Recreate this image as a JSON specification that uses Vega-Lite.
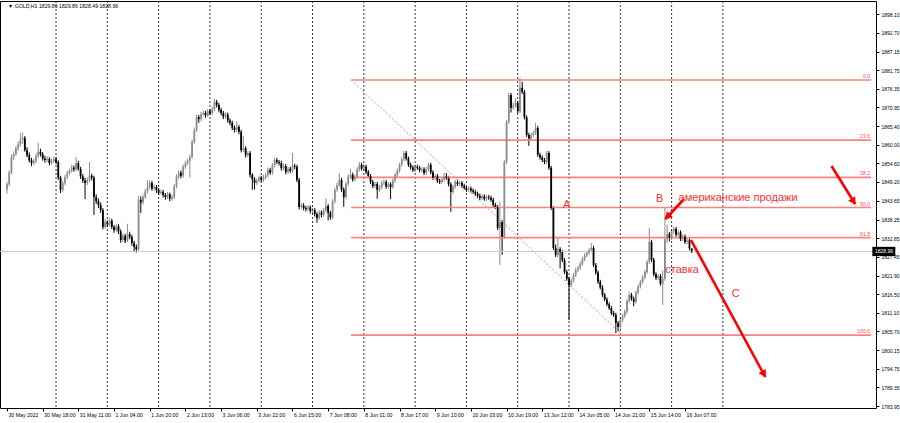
{
"$schema": "https://vega.github.io/schema/vega-lite/v6.json",
"width": 876, "height": 407,
"autosize": {"type": "none"},
"padding": {"left": 0, "top": 1, "right": 24, "bottom": 15},
"background": "#ffffff",
"config": {"view": {"stroke": "#000000", "strokeWidth": 1},
  "axis": {"labelFont": "Liberation Sans", "labelFontSize": 5.2, "labelColor": "#000000", "tickColor": "#000000", "tickSize": 3, "domain": false, "grid": false, "labelOverlap": false, "labelFlush": false}},
"datasets": {
"c": [
{"i":0,"o":1847.0,"h":1849.2,"l":1845.8,"c":1848.5},
{"i":1,"o":1848.5,"h":1852.6,"l":1847.9,"c":1852.0},
{"i":2,"o":1852.0,"h":1857.3,"l":1851.4,"c":1856.5},
{"i":3,"o":1856.5,"h":1858.1,"l":1855.6,"c":1857.2},
{"i":4,"o":1857.2,"h":1859.6,"l":1856.8,"c":1859.0},
{"i":5,"o":1859.0,"h":1861.0,"l":1858.2,"c":1860.2},
{"i":6,"o":1860.2,"h":1863.5,"l":1859.5,"c":1861.4},
{"i":7,"o":1861.4,"h":1863.6,"l":1860.3,"c":1862.0},
{"i":8,"o":1862.0,"h":1862.6,"l":1858.0,"c":1858.5},
{"i":9,"o":1858.5,"h":1859.3,"l":1856.4,"c":1857.0},
{"i":10,"o":1857.0,"h":1857.8,"l":1854.9,"c":1855.5},
{"i":11,"o":1855.5,"h":1856.2,"l":1853.8,"c":1854.7},
{"i":12,"o":1854.7,"h":1856.0,"l":1854.1,"c":1855.2},
{"i":13,"o":1855.2,"h":1857.5,"l":1854.6,"c":1856.8},
{"i":14,"o":1856.8,"h":1860.6,"l":1856.2,"c":1858.0},
{"i":15,"o":1858.0,"h":1858.9,"l":1856.6,"c":1857.3},
{"i":16,"o":1857.3,"h":1857.9,"l":1855.4,"c":1856.0},
{"i":17,"o":1856.0,"h":1856.8,"l":1854.8,"c":1855.6},
{"i":18,"o":1855.6,"h":1856.7,"l":1855.0,"c":1855.9},
{"i":19,"o":1855.9,"h":1856.4,"l":1854.0,"c":1854.7},
{"i":20,"o":1854.7,"h":1856.0,"l":1854.2,"c":1855.3},
{"i":21,"o":1855.3,"h":1856.6,"l":1854.8,"c":1855.8},
{"i":22,"o":1855.8,"h":1856.3,"l":1854.4,"c":1855.0},
{"i":23,"o":1855.0,"h":1855.5,"l":1849.8,"c":1850.5},
{"i":24,"o":1850.5,"h":1851.0,"l":1846.0,"c":1846.9},
{"i":25,"o":1846.9,"h":1849.5,"l":1846.3,"c":1848.8},
{"i":26,"o":1848.8,"h":1851.2,"l":1848.2,"c":1850.6},
{"i":27,"o":1850.6,"h":1852.4,"l":1850.0,"c":1851.8},
{"i":28,"o":1851.8,"h":1853.1,"l":1851.2,"c":1852.5},
{"i":29,"o":1852.5,"h":1854.2,"l":1851.9,"c":1853.4},
{"i":30,"o":1853.4,"h":1854.0,"l":1852.2,"c":1852.9},
{"i":31,"o":1852.9,"h":1856.5,"l":1852.3,"c":1854.7},
{"i":32,"o":1854.7,"h":1855.3,"l":1852.5,"c":1853.0},
{"i":33,"o":1853.0,"h":1853.6,"l":1850.1,"c":1850.8},
{"i":34,"o":1850.8,"h":1851.5,"l":1848.9,"c":1849.6},
{"i":35,"o":1849.6,"h":1850.4,"l":1844.2,"c":1848.9},
{"i":36,"o":1848.9,"h":1850.5,"l":1848.3,"c":1849.8},
{"i":37,"o":1849.8,"h":1855.0,"l":1849.2,"c":1851.0},
{"i":38,"o":1851.0,"h":1851.6,"l":1849.6,"c":1850.4},
{"i":39,"o":1850.4,"h":1851.0,"l":1839.6,"c":1844.8},
{"i":40,"o":1844.8,"h":1845.6,"l":1842.8,"c":1843.6},
{"i":41,"o":1843.6,"h":1844.4,"l":1841.6,"c":1842.5},
{"i":42,"o":1842.5,"h":1843.2,"l":1840.2,"c":1841.0},
{"i":43,"o":1841.0,"h":1841.6,"l":1835.4,"c":1836.1},
{"i":44,"o":1836.1,"h":1838.4,"l":1835.6,"c":1837.5},
{"i":45,"o":1837.5,"h":1838.0,"l":1836.0,"c":1836.8},
{"i":46,"o":1836.8,"h":1838.8,"l":1836.2,"c":1837.9},
{"i":47,"o":1837.9,"h":1838.5,"l":1835.5,"c":1836.1},
{"i":48,"o":1836.1,"h":1836.7,"l":1834.4,"c":1835.2},
{"i":49,"o":1835.2,"h":1837.0,"l":1834.6,"c":1836.3},
{"i":50,"o":1836.3,"h":1836.9,"l":1834.0,"c":1834.8},
{"i":51,"o":1834.8,"h":1835.4,"l":1831.5,"c":1832.3},
{"i":52,"o":1832.3,"h":1834.2,"l":1831.7,"c":1833.5},
{"i":53,"o":1833.5,"h":1834.1,"l":1831.4,"c":1832.1},
{"i":54,"o":1832.1,"h":1837.0,"l":1831.6,"c":1834.0},
{"i":55,"o":1834.0,"h":1834.7,"l":1832.5,"c":1833.2},
{"i":56,"o":1833.2,"h":1833.8,"l":1830.6,"c":1831.4},
{"i":57,"o":1831.4,"h":1832.0,"l":1829.0,"c":1830.3},
{"i":58,"o":1830.3,"h":1831.0,"l":1828.6,"c":1829.6},
{"i":59,"o":1829.6,"h":1845.2,"l":1829.2,"c":1844.0},
{"i":60,"o":1844.0,"h":1845.0,"l":1840.2,"c":1843.2},
{"i":61,"o":1843.2,"h":1845.6,"l":1842.6,"c":1844.8},
{"i":62,"o":1844.8,"h":1847.2,"l":1844.2,"c":1846.5},
{"i":63,"o":1846.5,"h":1849.8,"l":1845.9,"c":1847.7},
{"i":64,"o":1847.7,"h":1849.6,"l":1847.0,"c":1848.9},
{"i":65,"o":1848.9,"h":1849.5,"l":1846.6,"c":1847.3},
{"i":66,"o":1847.3,"h":1848.4,"l":1846.7,"c":1847.7},
{"i":67,"o":1847.7,"h":1848.3,"l":1846.0,"c":1846.8},
{"i":68,"o":1846.8,"h":1847.4,"l":1845.4,"c":1846.0},
{"i":69,"o":1846.0,"h":1847.0,"l":1845.5,"c":1846.3},
{"i":70,"o":1846.3,"h":1846.9,"l":1844.7,"c":1845.4},
{"i":71,"o":1845.4,"h":1846.0,"l":1844.0,"c":1844.8},
{"i":72,"o":1844.8,"h":1846.3,"l":1844.2,"c":1845.6},
{"i":73,"o":1845.6,"h":1846.1,"l":1843.6,"c":1844.3},
{"i":74,"o":1844.3,"h":1845.5,"l":1843.7,"c":1844.8},
{"i":75,"o":1844.8,"h":1848.6,"l":1844.2,"c":1847.9},
{"i":76,"o":1847.9,"h":1851.4,"l":1847.3,"c":1850.7},
{"i":77,"o":1850.7,"h":1852.6,"l":1850.1,"c":1851.9},
{"i":78,"o":1851.9,"h":1852.5,"l":1850.3,"c":1851.0},
{"i":79,"o":1851.0,"h":1854.3,"l":1850.4,"c":1853.6},
{"i":80,"o":1853.6,"h":1855.4,"l":1853.0,"c":1854.7},
{"i":81,"o":1854.7,"h":1856.1,"l":1854.1,"c":1855.4},
{"i":82,"o":1855.4,"h":1857.2,"l":1850.5,"c":1856.5},
{"i":83,"o":1856.5,"h":1861.5,"l":1856.0,"c":1860.8},
{"i":84,"o":1860.8,"h":1865.0,"l":1860.2,"c":1864.3},
{"i":85,"o":1864.3,"h":1868.8,"l":1863.7,"c":1868.1},
{"i":86,"o":1868.1,"h":1868.7,"l":1866.4,"c":1867.5},
{"i":87,"o":1867.5,"h":1869.6,"l":1866.9,"c":1868.9},
{"i":88,"o":1868.9,"h":1870.0,"l":1868.3,"c":1869.3},
{"i":89,"o":1869.3,"h":1869.9,"l":1867.8,"c":1868.6},
{"i":90,"o":1868.6,"h":1870.5,"l":1868.0,"c":1869.8},
{"i":91,"o":1869.8,"h":1870.4,"l":1868.6,"c":1869.3},
{"i":92,"o":1869.3,"h":1871.1,"l":1868.7,"c":1870.4},
{"i":93,"o":1870.4,"h":1873.4,"l":1869.8,"c":1872.5},
{"i":94,"o":1872.5,"h":1873.1,"l":1870.9,"c":1871.6},
{"i":95,"o":1871.6,"h":1872.2,"l":1869.5,"c":1870.2},
{"i":96,"o":1870.2,"h":1870.8,"l":1868.6,"c":1869.3},
{"i":97,"o":1869.3,"h":1869.9,"l":1867.5,"c":1868.2},
{"i":98,"o":1868.2,"h":1869.5,"l":1867.6,"c":1868.8},
{"i":99,"o":1868.8,"h":1869.4,"l":1866.4,"c":1867.1},
{"i":100,"o":1867.1,"h":1867.7,"l":1865.7,"c":1866.4},
{"i":101,"o":1866.4,"h":1867.0,"l":1864.3,"c":1865.0},
{"i":102,"o":1865.0,"h":1865.6,"l":1863.6,"c":1864.3},
{"i":103,"o":1864.3,"h":1866.8,"l":1863.7,"c":1865.2},
{"i":104,"o":1865.2,"h":1865.8,"l":1863.1,"c":1863.8},
{"i":105,"o":1863.8,"h":1864.4,"l":1857.8,"c":1858.5},
{"i":106,"o":1858.5,"h":1862.5,"l":1857.9,"c":1859.0},
{"i":107,"o":1859.0,"h":1859.6,"l":1856.3,"c":1857.0},
{"i":108,"o":1857.0,"h":1858.2,"l":1856.4,"c":1857.6},
{"i":109,"o":1857.6,"h":1858.2,"l":1850.5,"c":1851.2},
{"i":110,"o":1851.2,"h":1851.8,"l":1846.9,"c":1850.0},
{"i":111,"o":1850.0,"h":1850.6,"l":1847.0,"c":1848.9},
{"i":112,"o":1848.9,"h":1850.2,"l":1848.3,"c":1849.6},
{"i":113,"o":1849.6,"h":1851.0,"l":1849.0,"c":1850.4},
{"i":114,"o":1850.4,"h":1851.0,"l":1849.2,"c":1849.8},
{"i":115,"o":1849.8,"h":1851.3,"l":1849.2,"c":1850.6},
{"i":116,"o":1850.6,"h":1852.0,"l":1850.0,"c":1851.2},
{"i":117,"o":1851.2,"h":1853.4,"l":1850.6,"c":1852.7},
{"i":118,"o":1852.7,"h":1853.3,"l":1851.3,"c":1851.9},
{"i":119,"o":1851.9,"h":1854.7,"l":1851.3,"c":1854.0},
{"i":120,"o":1854.0,"h":1856.3,"l":1853.4,"c":1855.6},
{"i":121,"o":1855.6,"h":1856.2,"l":1854.4,"c":1855.0},
{"i":122,"o":1855.0,"h":1855.6,"l":1854.0,"c":1854.7},
{"i":123,"o":1854.7,"h":1855.4,"l":1852.5,"c":1853.2},
{"i":124,"o":1853.2,"h":1854.6,"l":1852.6,"c":1853.8},
{"i":125,"o":1853.8,"h":1854.4,"l":1851.4,"c":1852.1},
{"i":126,"o":1852.1,"h":1853.7,"l":1851.5,"c":1853.0},
{"i":127,"o":1853.0,"h":1853.6,"l":1851.8,"c":1852.5},
{"i":128,"o":1852.5,"h":1857.6,"l":1851.9,"c":1853.9},
{"i":129,"o":1853.9,"h":1854.5,"l":1852.9,"c":1853.6},
{"i":130,"o":1853.6,"h":1854.2,"l":1849.1,"c":1849.8},
{"i":131,"o":1849.8,"h":1850.4,"l":1841.2,"c":1841.9},
{"i":132,"o":1841.9,"h":1843.1,"l":1841.3,"c":1842.4},
{"i":133,"o":1842.4,"h":1843.0,"l":1840.9,"c":1841.6},
{"i":134,"o":1841.6,"h":1842.2,"l":1840.6,"c":1841.3},
{"i":135,"o":1841.3,"h":1842.5,"l":1840.7,"c":1841.8},
{"i":136,"o":1841.8,"h":1842.4,"l":1840.0,"c":1840.7},
{"i":137,"o":1840.7,"h":1841.7,"l":1840.1,"c":1841.0},
{"i":138,"o":1841.0,"h":1841.6,"l":1839.1,"c":1839.8},
{"i":139,"o":1839.8,"h":1840.4,"l":1837.3,"c":1838.7},
{"i":140,"o":1838.7,"h":1841.0,"l":1838.1,"c":1840.3},
{"i":141,"o":1840.3,"h":1840.9,"l":1838.9,"c":1839.6},
{"i":142,"o":1839.6,"h":1841.7,"l":1839.0,"c":1841.0},
{"i":143,"o":1841.0,"h":1844.5,"l":1840.4,"c":1842.2},
{"i":144,"o":1842.2,"h":1842.8,"l":1838.0,"c":1840.2},
{"i":145,"o":1840.2,"h":1840.8,"l":1838.2,"c":1838.9},
{"i":146,"o":1838.9,"h":1844.2,"l":1838.3,"c":1843.5},
{"i":147,"o":1843.5,"h":1847.6,"l":1842.9,"c":1846.9},
{"i":148,"o":1846.9,"h":1849.0,"l":1846.3,"c":1848.3},
{"i":149,"o":1848.3,"h":1851.7,"l":1847.7,"c":1849.8},
{"i":150,"o":1849.8,"h":1850.4,"l":1846.3,"c":1847.0},
{"i":151,"o":1847.0,"h":1847.6,"l":1842.0,"c":1844.8},
{"i":152,"o":1844.8,"h":1849.3,"l":1844.2,"c":1848.6},
{"i":153,"o":1848.6,"h":1851.4,"l":1848.0,"c":1850.7},
{"i":154,"o":1850.7,"h":1853.0,"l":1850.1,"c":1851.3},
{"i":155,"o":1851.3,"h":1851.9,"l":1849.3,"c":1849.9},
{"i":156,"o":1849.9,"h":1851.4,"l":1849.3,"c":1850.7},
{"i":157,"o":1850.7,"h":1853.5,"l":1850.1,"c":1852.8},
{"i":158,"o":1852.8,"h":1855.0,"l":1852.2,"c":1854.2},
{"i":159,"o":1854.2,"h":1854.8,"l":1852.5,"c":1853.1},
{"i":160,"o":1853.1,"h":1854.3,"l":1852.5,"c":1853.6},
{"i":161,"o":1853.6,"h":1854.2,"l":1851.5,"c":1852.1},
{"i":162,"o":1852.1,"h":1852.7,"l":1850.3,"c":1850.9},
{"i":163,"o":1850.9,"h":1851.5,"l":1848.6,"c":1849.2},
{"i":164,"o":1849.2,"h":1849.8,"l":1847.4,"c":1848.0},
{"i":165,"o":1848.0,"h":1849.3,"l":1847.4,"c":1848.6},
{"i":166,"o":1848.6,"h":1849.2,"l":1844.3,"c":1846.9},
{"i":167,"o":1846.9,"h":1848.3,"l":1846.3,"c":1847.6},
{"i":168,"o":1847.6,"h":1849.5,"l":1847.0,"c":1848.9},
{"i":169,"o":1848.9,"h":1849.9,"l":1848.3,"c":1849.2},
{"i":170,"o":1849.2,"h":1849.8,"l":1847.2,"c":1847.8},
{"i":171,"o":1847.8,"h":1849.1,"l":1847.2,"c":1848.5},
{"i":172,"o":1848.5,"h":1849.1,"l":1844.2,"c":1847.7},
{"i":173,"o":1847.7,"h":1850.2,"l":1847.1,"c":1849.6},
{"i":174,"o":1849.6,"h":1851.8,"l":1849.0,"c":1851.2},
{"i":175,"o":1851.2,"h":1853.1,"l":1850.6,"c":1852.5},
{"i":176,"o":1852.5,"h":1854.8,"l":1851.9,"c":1854.2},
{"i":177,"o":1854.2,"h":1856.4,"l":1853.6,"c":1855.8},
{"i":178,"o":1855.8,"h":1858.2,"l":1855.2,"c":1857.6},
{"i":179,"o":1857.6,"h":1858.2,"l":1855.4,"c":1856.0},
{"i":180,"o":1856.0,"h":1856.6,"l":1853.6,"c":1854.2},
{"i":181,"o":1854.2,"h":1854.8,"l":1852.8,"c":1853.4},
{"i":182,"o":1853.4,"h":1854.0,"l":1852.1,"c":1852.7},
{"i":183,"o":1852.7,"h":1854.2,"l":1852.1,"c":1853.6},
{"i":184,"o":1853.6,"h":1854.2,"l":1852.7,"c":1853.3},
{"i":185,"o":1853.3,"h":1853.9,"l":1852.0,"c":1852.6},
{"i":186,"o":1852.6,"h":1853.5,"l":1852.0,"c":1852.9},
{"i":187,"o":1852.9,"h":1853.5,"l":1851.2,"c":1851.8},
{"i":188,"o":1851.8,"h":1853.6,"l":1851.2,"c":1853.0},
{"i":189,"o":1853.0,"h":1854.8,"l":1852.4,"c":1854.2},
{"i":190,"o":1854.2,"h":1854.8,"l":1851.4,"c":1852.0},
{"i":191,"o":1852.0,"h":1852.6,"l":1849.8,"c":1850.4},
{"i":192,"o":1850.4,"h":1851.5,"l":1849.8,"c":1850.9},
{"i":193,"o":1850.9,"h":1851.5,"l":1848.9,"c":1849.5},
{"i":194,"o":1849.5,"h":1850.1,"l":1848.6,"c":1849.2},
{"i":195,"o":1849.2,"h":1850.5,"l":1848.6,"c":1849.9},
{"i":196,"o":1849.9,"h":1851.8,"l":1849.3,"c":1850.8},
{"i":197,"o":1850.8,"h":1851.8,"l":1849.8,"c":1850.4},
{"i":198,"o":1850.4,"h":1851.0,"l":1847.9,"c":1848.5},
{"i":199,"o":1848.5,"h":1849.1,"l":1840.5,"c":1846.3},
{"i":200,"o":1846.3,"h":1848.4,"l":1845.7,"c":1847.8},
{"i":201,"o":1847.8,"h":1849.8,"l":1847.2,"c":1849.2},
{"i":202,"o":1849.2,"h":1849.8,"l":1848.0,"c":1848.6},
{"i":203,"o":1848.6,"h":1849.5,"l":1848.0,"c":1848.9},
{"i":204,"o":1848.9,"h":1849.5,"l":1847.5,"c":1848.1},
{"i":205,"o":1848.1,"h":1848.7,"l":1846.9,"c":1847.5},
{"i":206,"o":1847.5,"h":1848.1,"l":1846.3,"c":1846.9},
{"i":207,"o":1846.9,"h":1847.9,"l":1846.3,"c":1847.3},
{"i":208,"o":1847.3,"h":1847.9,"l":1846.1,"c":1846.7},
{"i":209,"o":1846.7,"h":1847.3,"l":1845.7,"c":1846.3},
{"i":210,"o":1846.3,"h":1846.9,"l":1845.2,"c":1845.8},
{"i":211,"o":1845.8,"h":1846.4,"l":1844.6,"c":1845.2},
{"i":212,"o":1845.2,"h":1845.8,"l":1843.9,"c":1844.5},
{"i":213,"o":1844.5,"h":1845.6,"l":1843.9,"c":1845.0},
{"i":214,"o":1845.0,"h":1845.6,"l":1843.7,"c":1844.3},
{"i":215,"o":1844.3,"h":1845.4,"l":1843.7,"c":1844.8},
{"i":216,"o":1844.8,"h":1845.4,"l":1844.0,"c":1844.6},
{"i":217,"o":1844.6,"h":1845.2,"l":1843.4,"c":1844.0},
{"i":218,"o":1844.0,"h":1844.6,"l":1841.9,"c":1842.5},
{"i":219,"o":1842.5,"h":1843.1,"l":1841.3,"c":1841.9},
{"i":220,"o":1841.9,"h":1842.5,"l":1835.2,"c":1835.8},
{"i":221,"o":1835.8,"h":1843.4,"l":1825.0,"c":1837.5},
{"i":222,"o":1837.5,"h":1838.1,"l":1828.0,"c":1833.2},
{"i":223,"o":1833.2,"h":1855.6,"l":1832.6,"c":1855.0},
{"i":224,"o":1855.0,"h":1867.3,"l":1854.4,"c":1866.7},
{"i":225,"o":1866.7,"h":1875.1,"l":1866.1,"c":1874.5},
{"i":226,"o":1874.5,"h":1875.1,"l":1869.4,"c":1870.8},
{"i":227,"o":1870.8,"h":1872.4,"l":1870.2,"c":1871.5},
{"i":228,"o":1871.5,"h":1873.6,"l":1870.9,"c":1872.2},
{"i":229,"o":1872.2,"h":1872.8,"l":1869.2,"c":1869.8},
{"i":230,"o":1869.8,"h":1879.5,"l":1869.2,"c":1876.6},
{"i":231,"o":1876.6,"h":1878.4,"l":1874.8,"c":1875.4},
{"i":232,"o":1875.4,"h":1876.0,"l":1867.4,"c":1868.0},
{"i":233,"o":1868.0,"h":1868.6,"l":1862.3,"c":1862.9},
{"i":234,"o":1862.9,"h":1863.5,"l":1859.7,"c":1861.8},
{"i":235,"o":1861.8,"h":1863.5,"l":1861.2,"c":1862.9},
{"i":236,"o":1862.9,"h":1864.1,"l":1862.3,"c":1863.5},
{"i":237,"o":1863.5,"h":1866.4,"l":1862.9,"c":1864.9},
{"i":238,"o":1864.9,"h":1865.5,"l":1856.5,"c":1857.1},
{"i":239,"o":1857.1,"h":1857.7,"l":1855.7,"c":1856.3},
{"i":240,"o":1856.3,"h":1856.9,"l":1855.0,"c":1855.6},
{"i":241,"o":1855.6,"h":1856.2,"l":1854.4,"c":1855.0},
{"i":242,"o":1855.0,"h":1858.3,"l":1854.4,"c":1857.6},
{"i":243,"o":1857.6,"h":1858.2,"l":1852.7,"c":1853.3},
{"i":244,"o":1853.3,"h":1853.9,"l":1841.0,"c":1841.6},
{"i":245,"o":1841.6,"h":1842.2,"l":1829.4,"c":1830.0},
{"i":246,"o":1830.0,"h":1831.0,"l":1827.3,"c":1827.9},
{"i":247,"o":1827.9,"h":1832.9,"l":1827.3,"c":1829.6},
{"i":248,"o":1829.6,"h":1830.2,"l":1824.0,"c":1828.8},
{"i":249,"o":1828.8,"h":1829.4,"l":1825.8,"c":1826.4},
{"i":250,"o":1826.4,"h":1827.0,"l":1822.4,"c":1823.0},
{"i":251,"o":1823.0,"h":1823.6,"l":1820.4,"c":1821.0},
{"i":252,"o":1821.0,"h":1821.6,"l":1809.0,"c":1819.2},
{"i":253,"o":1819.2,"h":1821.1,"l":1818.6,"c":1820.5},
{"i":254,"o":1820.5,"h":1822.7,"l":1819.9,"c":1822.1},
{"i":255,"o":1822.1,"h":1824.2,"l":1821.5,"c":1823.6},
{"i":256,"o":1823.6,"h":1824.8,"l":1823.0,"c":1824.2},
{"i":257,"o":1824.2,"h":1826.0,"l":1823.6,"c":1825.4},
{"i":258,"o":1825.4,"h":1827.3,"l":1824.8,"c":1826.7},
{"i":259,"o":1826.7,"h":1828.5,"l":1826.1,"c":1827.9},
{"i":260,"o":1827.9,"h":1829.2,"l":1827.3,"c":1828.6},
{"i":261,"o":1828.6,"h":1829.9,"l":1828.0,"c":1829.3},
{"i":262,"o":1829.3,"h":1831.4,"l":1828.7,"c":1830.0},
{"i":263,"o":1830.0,"h":1830.6,"l":1824.4,"c":1825.0},
{"i":264,"o":1825.0,"h":1825.6,"l":1822.2,"c":1822.8},
{"i":265,"o":1822.8,"h":1823.4,"l":1819.5,"c":1820.1},
{"i":266,"o":1820.1,"h":1820.7,"l":1817.9,"c":1818.5},
{"i":267,"o":1818.5,"h":1819.1,"l":1815.7,"c":1816.3},
{"i":268,"o":1816.3,"h":1816.9,"l":1814.4,"c":1815.0},
{"i":269,"o":1815.0,"h":1815.6,"l":1813.0,"c":1813.6},
{"i":270,"o":1813.6,"h":1814.2,"l":1811.9,"c":1812.5},
{"i":271,"o":1812.5,"h":1813.1,"l":1810.4,"c":1811.0},
{"i":272,"o":1811.0,"h":1811.6,"l":1809.9,"c":1810.5},
{"i":273,"o":1810.5,"h":1811.1,"l":1805.2,"c":1808.1},
{"i":274,"o":1808.1,"h":1808.7,"l":1805.6,"c":1807.0},
{"i":275,"o":1807.0,"h":1809.6,"l":1806.4,"c":1809.0},
{"i":276,"o":1809.0,"h":1810.8,"l":1808.4,"c":1810.2},
{"i":277,"o":1810.2,"h":1812.0,"l":1809.6,"c":1811.4},
{"i":278,"o":1811.4,"h":1815.1,"l":1810.8,"c":1814.5},
{"i":279,"o":1814.5,"h":1817.2,"l":1813.9,"c":1816.3},
{"i":280,"o":1816.3,"h":1816.9,"l":1814.6,"c":1815.2},
{"i":281,"o":1815.2,"h":1815.8,"l":1813.0,"c":1814.3},
{"i":282,"o":1814.3,"h":1817.6,"l":1813.7,"c":1817.0},
{"i":283,"o":1817.0,"h":1819.4,"l":1816.4,"c":1818.8},
{"i":284,"o":1818.8,"h":1820.7,"l":1818.2,"c":1820.1},
{"i":285,"o":1820.1,"h":1822.0,"l":1819.5,"c":1821.4},
{"i":286,"o":1821.4,"h":1823.6,"l":1820.8,"c":1823.0},
{"i":287,"o":1823.0,"h":1826.5,"l":1822.4,"c":1825.9},
{"i":288,"o":1825.9,"h":1835.8,"l":1825.3,"c":1831.7},
{"i":289,"o":1831.7,"h":1832.3,"l":1825.9,"c":1826.5},
{"i":290,"o":1826.5,"h":1827.1,"l":1821.7,"c":1822.3},
{"i":291,"o":1822.3,"h":1822.9,"l":1820.6,"c":1821.2},
{"i":292,"o":1821.2,"h":1822.4,"l":1820.6,"c":1821.8},
{"i":293,"o":1821.8,"h":1822.4,"l":1819.0,"c":1819.6},
{"i":294,"o":1819.6,"h":1823.5,"l":1813.4,"c":1821.0},
{"i":295,"o":1821.0,"h":1841.6,"l":1820.4,"c":1832.5},
{"i":296,"o":1832.5,"h":1836.8,"l":1831.4,"c":1834.0},
{"i":297,"o":1834.0,"h":1834.6,"l":1831.9,"c":1832.9},
{"i":298,"o":1832.9,"h":1835.4,"l":1832.3,"c":1834.8},
{"i":299,"o":1834.8,"h":1836.2,"l":1834.2,"c":1835.5},
{"i":300,"o":1835.5,"h":1836.1,"l":1833.2,"c":1833.8},
{"i":301,"o":1833.8,"h":1835.1,"l":1833.2,"c":1834.5},
{"i":302,"o":1834.5,"h":1835.1,"l":1832.0,"c":1832.6},
{"i":303,"o":1832.6,"h":1833.9,"l":1832.0,"c":1833.3},
{"i":304,"o":1833.3,"h":1833.9,"l":1831.1,"c":1831.7},
{"i":305,"o":1831.7,"h":1832.8,"l":1831.1,"c":1832.2},
{"i":306,"o":1832.2,"h":1832.8,"l":1829.3,"c":1829.86},
{"i":307,"o":1829.86,"h":1829.86,"l":1828.49,"c":1828.96}
],
"sep": [{"i":22},{"i":45},{"i":68},{"i":91},{"i":114},{"i":137},{"i":160},{"i":183},{"i":206},{"i":229},{"i":252},{"i":275},{"i":298},{"i":321}],
"fib": [{"lvl":"0.0","p":1878.9},{"lvl":"23.6","p":1861.37},{"lvl":"38.2","p":1850.52},{"lvl":"50.0","p":1841.75},{"lvl":"61.8","p":1832.98},{"lvl":"100.0","p":1804.6}],
"diag": [{"i1":154.3,"p1":1878.9,"i2":276,"p2":1804.6}],
"arr": [{"id":1,"i1":303.6,"p1":1844.23,"i2":295.2,"p2":1838.41,"ti":296.1,"tp":1839.05},
        {"id":2,"i1":306.7,"p1":1832.29,"i2":340.0,"p2":1792.4,"ti":339.4,"tp":1793.2},
        {"id":3,"i1":369.7,"p1":1853.84,"i2":380.3,"p2":1842.77,"ti":379.6,"tp":1843.5}],
"ann": [{"t":"A","i":250.9,"p":1842.5},{"t":"B","i":292.6,"p":1844.2},{"t":"C","i":326.7,"p":1816.6},{"t":"американские продажи","i":327.8,"p":1844.5},{"t":"ставка","i":302.7,"p":1823.6}],
"hdr": [{"t":"▼ GOLD,H1  1829.86 1829.86 1828.49 1828.96","i":0.5,"p":1900.4}],
"last": [{"p":1828.96}]
},
"layer": [
{"data": {"name": "c"}, "mark": {"type": "rule", "strokeWidth": 1},
 "encoding": {
   "x": {"field": "i", "type": "quantitative", "scale": {"domain": [-0.89, 387.4], "nice": false, "zero": false},
     "axis": {"values": [0,16,32,48,64,80,96,112,128,144,160,176,192,208,224,240,256,272,288,304], "tickCount": 40, "title": null, "labelAlign": "left", "labelBaseline": "top", "labelPadding": 1, "labelOffset": 1, "labelOverlap": false,
       "labelExpr": "['30 May 2022','30 May 18:00','31 May 11:00','1 Jun 04:00','1 Jun 20:00','2 Jun 13:00','3 Jun 06:00','3 Jun 22:00','6 Jun 15:00','7 Jun 08:00','8 Jun 01:00','8 Jun 17:00','9 Jun 10:00','10 Jun 03:00','10 Jun 19:00','13 Jun 12:00','14 Jun 05:00','14 Jun 21:00','15 Jun 14:00','16 Jun 07:00'][round(datum.value/16)]"}},
   "y": {"field": "l", "type": "quantitative", "scale": {"domain": [1783.37, 1901.89], "nice": false, "zero": false},
     "axis": {"orient": "right", "title": null, "values": [1898.10,1892.70,1887.15,1881.75,1876.35,1870.95,1865.40,1860.00,1854.60,1849.20,1843.65,1838.25,1832.85,1827.45,1821.90,1816.50,1811.10,1805.70,1800.15,1794.75,1789.35,1783.95], "tickCount": 40, "format": ".2f", "labelPadding": 2, "labelFontSize": 5, "labelOverlap": false, "labelBound": false}},
   "y2": {"field": "h"},
   "color": {"condition": {"test": "datum.c >= datum.o", "value": "#8c8c8c"}, "value": "#000000"}}},
{"data": {"name": "sep"}, "mark": {"type": "rule", "color": "#000000", "strokeWidth": 1, "strokeDash": [2, 2], "opacity": 0.8},
 "encoding": {"x": {"field": "i", "type": "quantitative", "axis": {"title": null}}}},
{"data": {"name": "last"}, "mark": {"type": "rule", "color": "#c8c8c8", "strokeWidth": 1},
 "encoding": {"y": {"field": "p", "type": "quantitative", "axis": {"title": null}}}},
{"data": {"name": "fib"}, "mark": {"type": "rule", "color": "#ff8080", "strokeWidth": 1.6},
 "encoding": {"x": {"datum": 154.3, "type": "quantitative", "axis": {"title": null}}, "x2": {"datum": 387.4},
   "y": {"field": "p", "type": "quantitative", "axis": {"title": null}}}},
{"data": {"name": "diag"}, "mark": {"type": "rule", "color": "#ff8080", "strokeWidth": 1, "strokeDash": [2, 2]},
 "encoding": {"x": {"field": "i1", "type": "quantitative", "axis": {"title": null}}, "x2": {"field": "i2"},
   "y": {"field": "p1", "type": "quantitative", "axis": {"title": null}}, "y2": {"field": "p2"}}},
{"data": {"name": "fib"}, "mark": {"type": "text", "color": "#ff4d4d", "font": "Liberation Sans", "fontSize": 5.2, "align": "right", "baseline": "bottom", "dy": -1},
 "encoding": {"x": {"datum": 387.0, "type": "quantitative", "axis": {"title": null}}, "y": {"field": "p", "type": "quantitative", "axis": {"title": null}}, "text": {"field": "lvl"}}},
{"data": {"name": "c"}, "mark": {"type": "bar", "width": 1.8},
 "encoding": {
   "x": {"field": "i", "type": "quantitative", "axis": {"title": null}},
   "y": {"field": "o", "type": "quantitative", "axis": {"title": null}}, "y2": {"field": "c"},
   "color": {"condition": {"test": "datum.c >= datum.o", "value": "#8c8c8c"}, "value": "#000000"}}},
{"data": {"name": "arr"}, "mark": {"type": "rule", "color": "#ff0000", "strokeWidth": 2.6},
 "encoding": {"x": {"field": "i1", "type": "quantitative", "axis": {"title": null}}, "x2": {"field": "i2"},
   "y": {"field": "p1", "type": "quantitative", "axis": {"title": null}}, "y2": {"field": "p2"}}},
{"data": {"name": "arr"}, "transform": [{"filter": "datum.id == 1"}], "mark": {"type": "point", "shape": "triangle-up", "filled": true, "color": "#ff0000", "size": 70, "angle": 223.5, "opacity": 1},
 "encoding": {"x": {"field": "ti", "type": "quantitative", "axis": {"title": null}}, "y": {"field": "tp", "type": "quantitative", "axis": {"title": null}}}},
{"data": {"name": "arr"}, "transform": [{"filter": "datum.id == 2"}], "mark": {"type": "point", "shape": "triangle-up", "filled": true, "color": "#ff0000", "size": 70, "angle": 151.3, "opacity": 1},
 "encoding": {"x": {"field": "ti", "type": "quantitative", "axis": {"title": null}}, "y": {"field": "tp", "type": "quantitative", "axis": {"title": null}}}},
{"data": {"name": "arr"}, "transform": [{"filter": "datum.id == 3"}], "mark": {"type": "point", "shape": "triangle-up", "filled": true, "color": "#ff0000", "size": 70, "angle": 147.7, "opacity": 1},
 "encoding": {"x": {"field": "ti", "type": "quantitative", "axis": {"title": null}}, "y": {"field": "tp", "type": "quantitative", "axis": {"title": null}}}},
{"data": {"name": "ann"}, "mark": {"type": "text", "color": "#ff3030", "font": "Liberation Sans", "fontSize": 11, "align": "center", "baseline": "middle"},
 "encoding": {"x": {"field": "i", "type": "quantitative", "axis": {"title": null}}, "y": {"field": "p", "type": "quantitative", "axis": {"title": null}}, "text": {"field": "t"}}},
{"data": {"name": "hdr"}, "mark": {"type": "text", "color": "#000000", "font": "Liberation Sans", "fontSize": 5.2, "align": "left", "baseline": "middle"},
 "encoding": {"x": {"field": "i", "type": "quantitative", "axis": {"title": null}}, "y": {"field": "p", "type": "quantitative", "axis": {"title": null}}, "text": {"field": "t"}}},
{"data": {"name": "last"}, "mark": {"type": "rect", "color": "#000000"},
 "encoding": {"x": {"datum": 388.0, "type": "quantitative", "axis": {"title": null}}, "x2": {"datum": 398.3},
   "y": {"datum": 1827.6, "type": "quantitative", "axis": {"title": null}}, "y2": {"datum": 1830.3}}},
{"data": {"name": "last"}, "mark": {"type": "text", "color": "#ffffff", "font": "Liberation Sans", "fontSize": 5, "align": "center", "baseline": "middle"},
 "encoding": {"x": {"datum": 393.2, "type": "quantitative", "axis": {"title": null}}, "y": {"field": "p", "type": "quantitative", "axis": {"title": null}}, "text": {"field": "p", "format": ".2f"}}}
]
}
